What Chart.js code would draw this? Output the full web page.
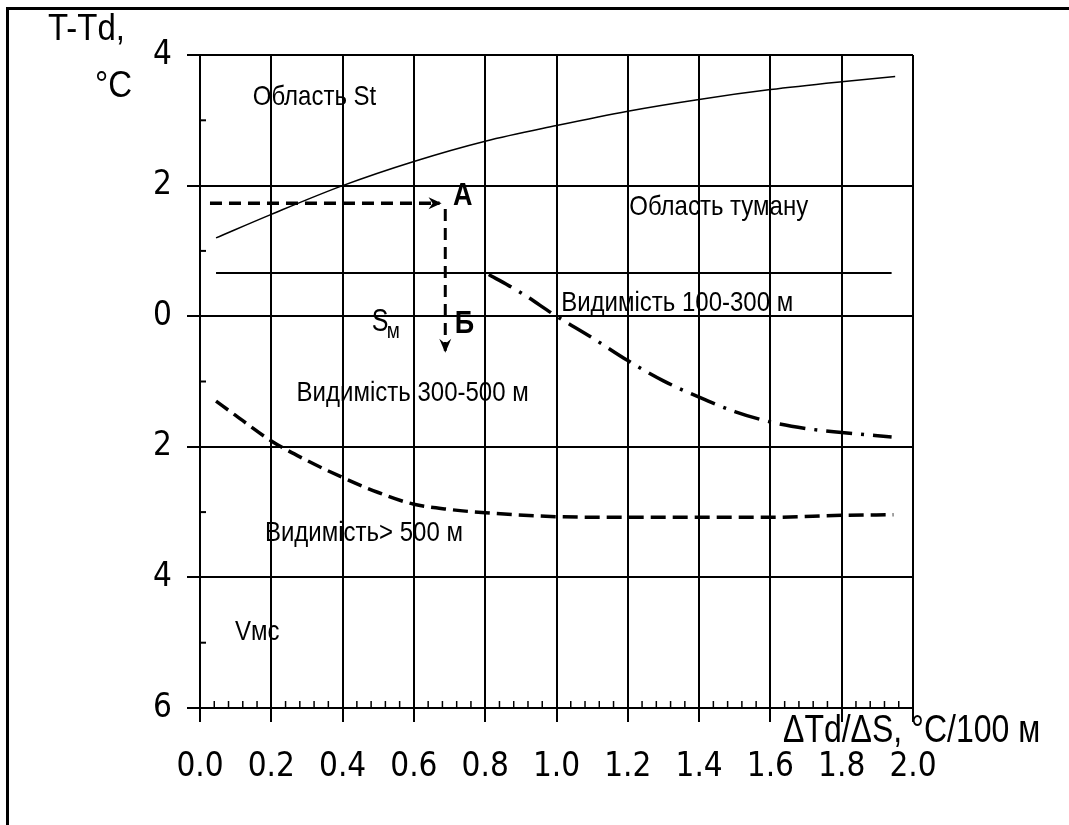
<!DOCTYPE html>
<html>
<head>
<meta charset="utf-8">
<title>T-Td та ΔTd/ΔS</title>
<script src="https://cdn.jsdelivr.net/npm/chart.js@4.4.1/dist/chart.umd.min.js"></script>
<style>
    html, body { margin: 0; padding: 0; background: #fff; }
    #wrap { position: relative; width: 1069px; height: 825px; overflow: hidden; }
    #ramka { position: absolute; left: 6px; top: 7px; width: 1100px; height: 900px; border-top: 3px solid #000; border-left: 3px solid #000; }
    #grafik { position: absolute; left: 0; top: 0; }
</style>
</head>
<body>
<div id="wrap">
    <div id="ramka"></div>
    <canvas id="grafik" width="1069" height="825"></canvas>
</div>
<script>
// Межа області St (тонка крива)
var stX = [0.045, 0.2, 0.4, 0.6, 0.8, 1.0, 1.2, 1.4, 1.6, 1.8, 1.95];
var stY = [1.2, 1.56, 2.0, 2.37, 2.68, 2.92, 3.14, 3.32, 3.47, 3.59, 3.67];

// Межа області туману
var tumanX = [0.045, 1.94];
var tumanY = [0.66, 0.66];

// Видимість 100-300 м (штрих-пунктир)
var vid100X = [0.81, 0.9, 1.0, 1.1, 1.2, 1.3, 1.4, 1.5, 1.6, 1.7, 1.8, 1.94];
var vid100Y = [0.64, 0.36, 0.0, -0.33, -0.68, -0.99, -1.24, -1.46, -1.62, -1.72, -1.78, -1.85];

// Видимість > 500 м (штрихова)
var vid500X = [0.045, 0.1, 0.2, 0.3, 0.4, 0.5, 0.6, 0.7, 0.8, 1.0, 1.2, 1.4, 1.6, 1.8, 1.945];
var vid500Y = [-1.3, -1.52, -1.91, -2.21, -2.47, -2.7, -2.88, -2.96, -3.01, -3.07, -3.08, -3.08, -3.08, -3.05, -3.04];

// Приклад: стрілки А -> Б
var strilkaAX = [0.028, 0.672];
var strilkaAY = [1.73, 1.73];
var strilkaBX = [0.688, 0.688];
var strilkaBY = [1.64, -0.53];

// Поділки осей
var xTickValues = [0, 0.2, 0.4, 0.6, 0.8, 1.0, 1.2, 1.4, 1.6, 1.8, 2.0];
var xTickLabels = ['0.0', '0.2', '0.4', '0.6', '0.8', '1.0', '1.2', '1.4', '1.6', '1.8', '2.0'];
var yTickValues = [-6, -4, -2, 0, 2, 4];
var yTickLabels = ['6', '4', '2', '0', '2', '4'];

// Підписи на полі графіка (ліва межа тексту, центр по вертикалі)
var napysy = [
    { text: 'Область St', x: 0.148, y: 3.35 },
    { text: 'Область туману', x: 1.204, y: 1.67 },
    { text: 'Видимість 100-300 м', x: 1.013, y: 0.2 },
    { text: 'Видимість 300-500 м', x: 0.271, y: -1.18 },
    { text: 'Видимість> 500 м', x: 0.182, y: -3.32 },
    { text: 'Vмс', x: 0.098, y: -4.84 }
];

var SHRYFT = "'Liberation Sans', Arial, sans-serif";
var VUZKYI = "'Liberation Sans Narrow', 'Arial Narrow', 'DejaVu Sans Condensed', 'Liberation Sans', sans-serif";

function tochky(xs, ys) {
    return xs.map(function(x, i) { return { x: x, y: ys[i] }; });
}

function tekst(ctx, t, x, y, font, roztyah, vyrivn) {
    ctx.save();
    ctx.font = font;
    ctx.fillStyle = '#000';
    ctx.textAlign = vyrivn || 'left';
    ctx.textBaseline = 'middle';
    ctx.translate(x, y);
    ctx.scale(1, roztyah);
    ctx.fillText(t, 0, 0);
    ctx.restore();
}

function liniya(ctx, x1, y1, x2, y2, w) {
    ctx.beginPath();
    ctx.lineWidth = w;
    ctx.moveTo(x1, y1);
    ctx.lineTo(x2, y2);
    ctx.stroke();
}

var dodatky = {
    id: 'dodatky',
    afterDatasetsDraw: function(chart) {
        var ctx = chart.ctx;
        var sx = chart.scales.x;
        var sy = chart.scales.y;
        var area = chart.chartArea;
        ctx.save();
        ctx.strokeStyle = '#000';
        ctx.fillStyle = '#000';

        // дрібні поділки на осі X (всередину)
        for (var i = 1; i < 50; i++) {
            if (i % 5 === 0) continue;
            var px = sx.getPixelForValue(i * 0.04);
            liniya(ctx, px, area.bottom, px, area.bottom - 7, 1.5);
        }
        // дрібні поділки на осі Y
        [-5, -3, -1, 1, 3].forEach(function(v) {
            var py = sy.getPixelForValue(v);
            liniya(ctx, area.left, py, area.left + 6, py, 2);
        });

        // наконечники стрілок
        var ax = sx.getPixelForValue(strilkaAX[1]);
        var ay = sy.getPixelForValue(strilkaAY[1]);
        ctx.beginPath();
        ctx.moveTo(ax + 2, ay);
        ctx.lineTo(ax - 11, ay - 6);
        ctx.lineTo(ax - 7, ay);
        ctx.lineTo(ax - 11, ay + 6);
        ctx.closePath();
        ctx.fill();
        var bx = sx.getPixelForValue(strilkaBX[1]);
        var by = sy.getPixelForValue(strilkaBY[1]);
        ctx.beginPath();
        ctx.moveTo(bx, by + 2);
        ctx.lineTo(bx - 6, by - 12);
        ctx.lineTo(bx, by - 7);
        ctx.lineTo(bx + 6, by - 12);
        ctx.closePath();
        ctx.fill();

        // підписи областей
        napysy.forEach(function(n) {
            tekst(ctx, n.text, sx.getPixelForValue(n.x), sy.getPixelForValue(n.y), '24px ' + SHRYFT, 1.18);
        });
        tekst(ctx, 'А', sx.getPixelForValue(0.737), sy.getPixelForValue(1.83), 'bold 27px ' + SHRYFT, 1.15, 'center');
        tekst(ctx, 'Б', sx.getPixelForValue(0.742), sy.getPixelForValue(-0.12), 'bold 27px ' + SHRYFT, 1.15, 'center');
        tekst(ctx, 'S', sx.getPixelForValue(0.482), sy.getPixelForValue(-0.1), '25px ' + SHRYFT, 1.25);
        tekst(ctx, 'м', sx.getPixelForValue(0.482) + 15, sy.getPixelForValue(-0.1) + 9, '19px ' + SHRYFT, 1.2);

        // назви осей
        tekst(ctx, 'T-Td,', area.left - 152, 30, '33px ' + SHRYFT, 1.12);
        tekst(ctx, '°C', area.left - 68, 87, '33px ' + SHRYFT, 1.12, 'right');
        tekst(ctx, 'ΔTd/ΔS, °C/100 м', area.right - 130, area.bottom + 23, '32px ' + SHRYFT, 1.2);
        ctx.restore();
    }
};

var ctx_grafik = document.getElementById('grafik').getContext('2d');
var myChart_grafik = new Chart(ctx_grafik, {
    type: 'scatter',
    data: {
        datasets: [{
            label: 'Межа області St',
            data: tochky(stX, stY),
            showLine: true,
            borderColor: '#000',
            borderWidth: 1.5,
            cubicInterpolationMode: 'monotone',
            pointRadius: 0
        }, {
            label: 'Межа області туману',
            data: tochky(tumanX, tumanY),
            showLine: true,
            borderColor: '#000',
            borderWidth: 2,
            pointRadius: 0
        }, {
            label: 'Стрілка А',
            data: tochky(strilkaAX, strilkaAY),
            showLine: true,
            borderColor: '#000',
            borderWidth: 3.5,
            borderDash: [12, 7],
            pointRadius: 0
        }, {
            label: 'Стрілка Б',
            data: tochky(strilkaBX, strilkaBY),
            showLine: true,
            borderColor: '#000',
            borderWidth: 3,
            borderDash: [12, 7],
            pointRadius: 0
        }, {
            label: 'Видимість 100-300 м',
            data: tochky(vid100X, vid100Y),
            showLine: true,
            borderColor: '#000',
            borderWidth: 3.5,
            borderDash: [26, 9, 3, 9],
            cubicInterpolationMode: 'monotone',
            pointRadius: 0
        }, {
            label: 'Видимість > 500 м',
            data: tochky(vid500X, vid500Y),
            showLine: true,
            borderColor: '#000',
            borderWidth: 3.5,
            borderDash: [15, 7],
            cubicInterpolationMode: 'monotone',
            pointRadius: 0
        }]
    },
    options: {
        responsive: false,
        animation: false,
        devicePixelRatio: 1,
        layout: {
            padding: { top: 55, right: 156, left: 0, bottom: 0 }
        },
        plugins: {
            legend: { display: false },
            tooltip: { enabled: false },
            title: { display: false }
        },
        scales: {
            x: {
                type: 'linear',
                min: 0,
                max: 2,
                afterBuildTicks: function(scale) {
                    scale.ticks = xTickValues.map(function(v) { return { value: v }; });
                },
                afterFit: function(scale) { scale.height = 117; },
                grid: { color: '#000', lineWidth: 2, tickLength: 14 },
                border: { color: '#000', width: 2 },
                ticks: {
                    color: '#000',
                    padding: 26,
                    maxRotation: 0,
                    font: { family: VUZKYI, size: 33 },
                    callback: function(value, index) { return xTickLabels[index]; }
                }
            },
            y: {
                type: 'linear',
                min: -6,
                max: 4,
                afterBuildTicks: function(scale) {
                    scale.ticks = yTickValues.map(function(v) { return { value: v }; });
                },
                afterFit: function(scale) { scale.width = 200; },
                grid: { color: '#000', lineWidth: 2, tickLength: 13 },
                border: { color: '#000', width: 2 },
                ticks: {
                    color: '#000',
                    padding: 15,
                    font: { family: VUZKYI, size: 33 },
                    callback: function(value, index) { return yTickLabels[index]; }
                }
            }
        }
    },
    plugins: [dodatky]
});
</script>
</body>
</html>
